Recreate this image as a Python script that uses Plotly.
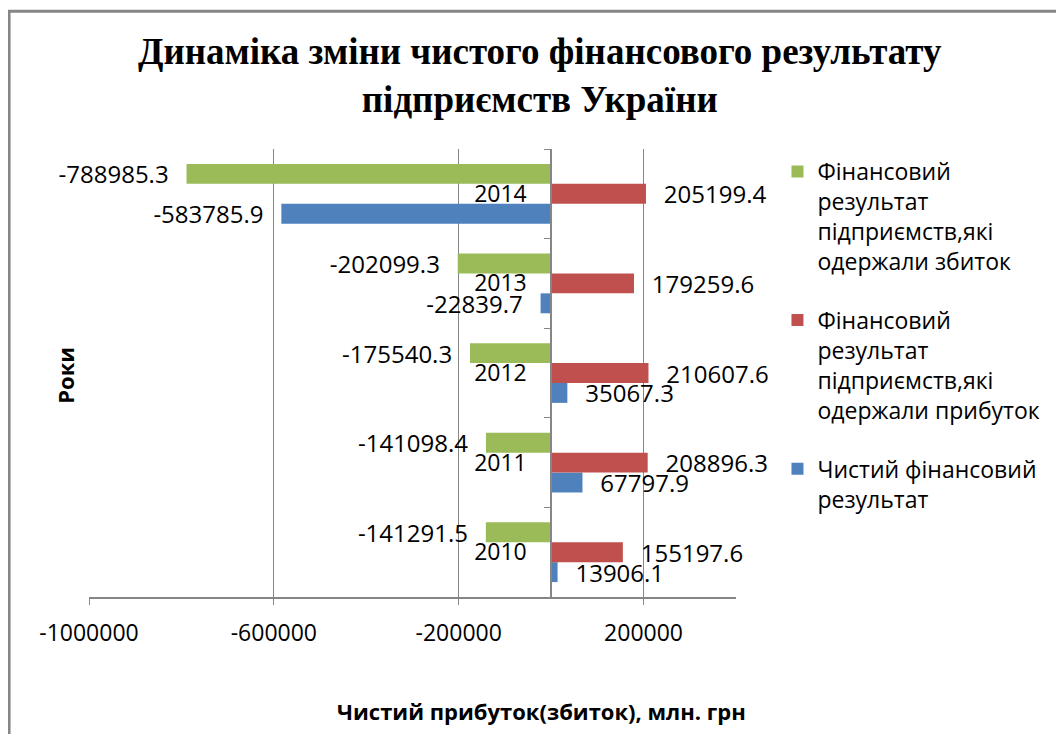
import plotly.graph_objects as go

# ---- data ----
years = ["2010", "2011", "2012", "2013", "2014"]
loss_result = [-141291.5, -141098.4, -175540.3, -202099.3, -788985.3]
profit_result = [155197.6, 208896.3, 210607.6, 179259.6, 205199.4]
net_result = [13906.1, 67797.9, 35067.3, -22839.7, -583785.9]

series_names = [
    "Чистий фінансовий<br>результат",
    "Фінансовий<br>результат<br>підприємств,які<br>одержали прибуток",
    "Фінансовий<br>результат<br>підприємств,які<br>одержали збиток",
]
x_tickvals = [-1000000, -600000, -200000, 200000]
x_ticktext = ["-1000000", "-600000", "-200000", "200000"]
x_range = [-1000000, 400000]

title_text = "Динаміка зміни чистого фінансового результату<br>підприємств України"
x_title = "Чистий прибуток(збиток), млн. грн"
y_title = "Роки"

colors = ["#4F81BD", "#C0504D", "#9BBB59"]
legend_ranks = [3, 2, 1]

FONT = "Open Sans, Lato, DejaVu Sans, sans-serif"
PAD = "\u00a0\u00a0\u200a"


def labels(vals):
    out = []
    for v in vals:
        s = f"{v}"
        out.append(s + PAD if v < 0 else PAD + s)
    return out


# page body has an 8px margin: work in reference pixel coords shifted by OFF
OFF = 8
W, H = 1064 - OFF, 734 - OFF
PL, PR, PT, PB = 89 - OFF, 736.5 - OFF, 149 - OFF, 597.5 - OFF
ML, MR, MT, MB = PL, W - PR, PT, H - PB
pw = PR - PL
ph = PB - PT


def px_x(px):
    return (px - OFF - PL) / pw


def px_y(py):
    return (PB - (py - OFF)) / ph


fig = go.Figure()
for name, vals, col, grp, rk in zip(series_names, [net_result, profit_result, loss_result],
                                    colors, ["a", "b", "c"], legend_ranks):
    fig.add_trace(go.Bar(
        y=years, x=vals, orientation="h", name=name,
        marker=dict(color=col, line=dict(width=0)),
        text=labels(vals), texttemplate="%{text}", textposition="outside",
        constraintext="none", cliponaxis=False,
        textfont=dict(family=FONT, size=24, color="#000000"),
        legendgroup=grp, legendrank=rk,
    ))

zero_frac = (0 - x_range[0]) / (x_range[1] - x_range[0])

fig.update_layout(
    width=W, height=H,
    margin=dict(l=ML, r=MR, t=MT, b=MB, autoexpand=False),
    paper_bgcolor="white", plot_bgcolor="white",
    barmode="group", bargap=1 / 3, bargroupgap=0,
    font=dict(family=FONT, size=23, color="#000000"),
    xaxis=dict(
        range=x_range, tickmode="array", tickvals=x_tickvals, ticktext=x_ticktext,
        showgrid=True, gridcolor="#868686", gridwidth=1, zeroline=False,
        showline=True, linecolor="#868686", linewidth=1.5,
        ticks="outside", ticklen=6, tickcolor="#868686",
        ticklabelstandoff=9,
        tickfont=dict(family=FONT, size=23, color="#000000"),
    ),
    yaxis=dict(
        type="category", anchor="free", position=zero_frac,
        showgrid=False, zeroline=False,
        showline=True, linecolor="#868686", linewidth=1.5,
        ticks="outside", ticklen=6, tickcolor="#868686", tickson="boundaries",
        ticklabelstandoff=19,
        tickfont=dict(family=FONT, size=23, color="#000000"),
    ),
    legend=dict(
        x=px_x(778), xanchor="left", y=px_y(150), yanchor="top",
        traceorder="grouped", tracegroupgap=26, valign="top",
        maxheight=650,
        font=dict(family=FONT, size=23, color="#000000"),
        bgcolor="rgba(0,0,0,0)",
    ),
    showlegend=True,
)

fig.add_annotation(
    text=title_text, x=px_x(540), y=px_y(75), xref="paper", yref="paper",
    showarrow=False, xanchor="center", yanchor="middle", align="center",
    font=dict(family="Liberation Serif, Times New Roman, serif", size=37, color="#000000", weight="bold"),
)
fig.add_annotation(
    text=y_title, textangle=-90, x=px_x(65), y=px_y(376), xref="paper", yref="paper",
    showarrow=False, xanchor="center", yanchor="middle",
    font=dict(family=FONT, size=22, color="#000000", weight="bold"),
)
fig.add_annotation(
    text=x_title, x=px_x(542), y=px_y(712), xref="paper", yref="paper",
    showarrow=False, xanchor="center", yanchor="middle",
    font=dict(family=FONT, size=22, color="#000000", weight="bold"),
)

# outer chart frame (only left and top edges fall inside the picture)
fig.add_shape(type="rect", xref="paper", yref="paper",
              x0=px_x(9), x1=px_x(1064 + 30), y0=px_y(734 + 30), y1=px_y(11),
              line=dict(color="#868686", width=3), fillcolor="rgba(0,0,0,0)",
              layer="above")

fig.write_html("out.html")
